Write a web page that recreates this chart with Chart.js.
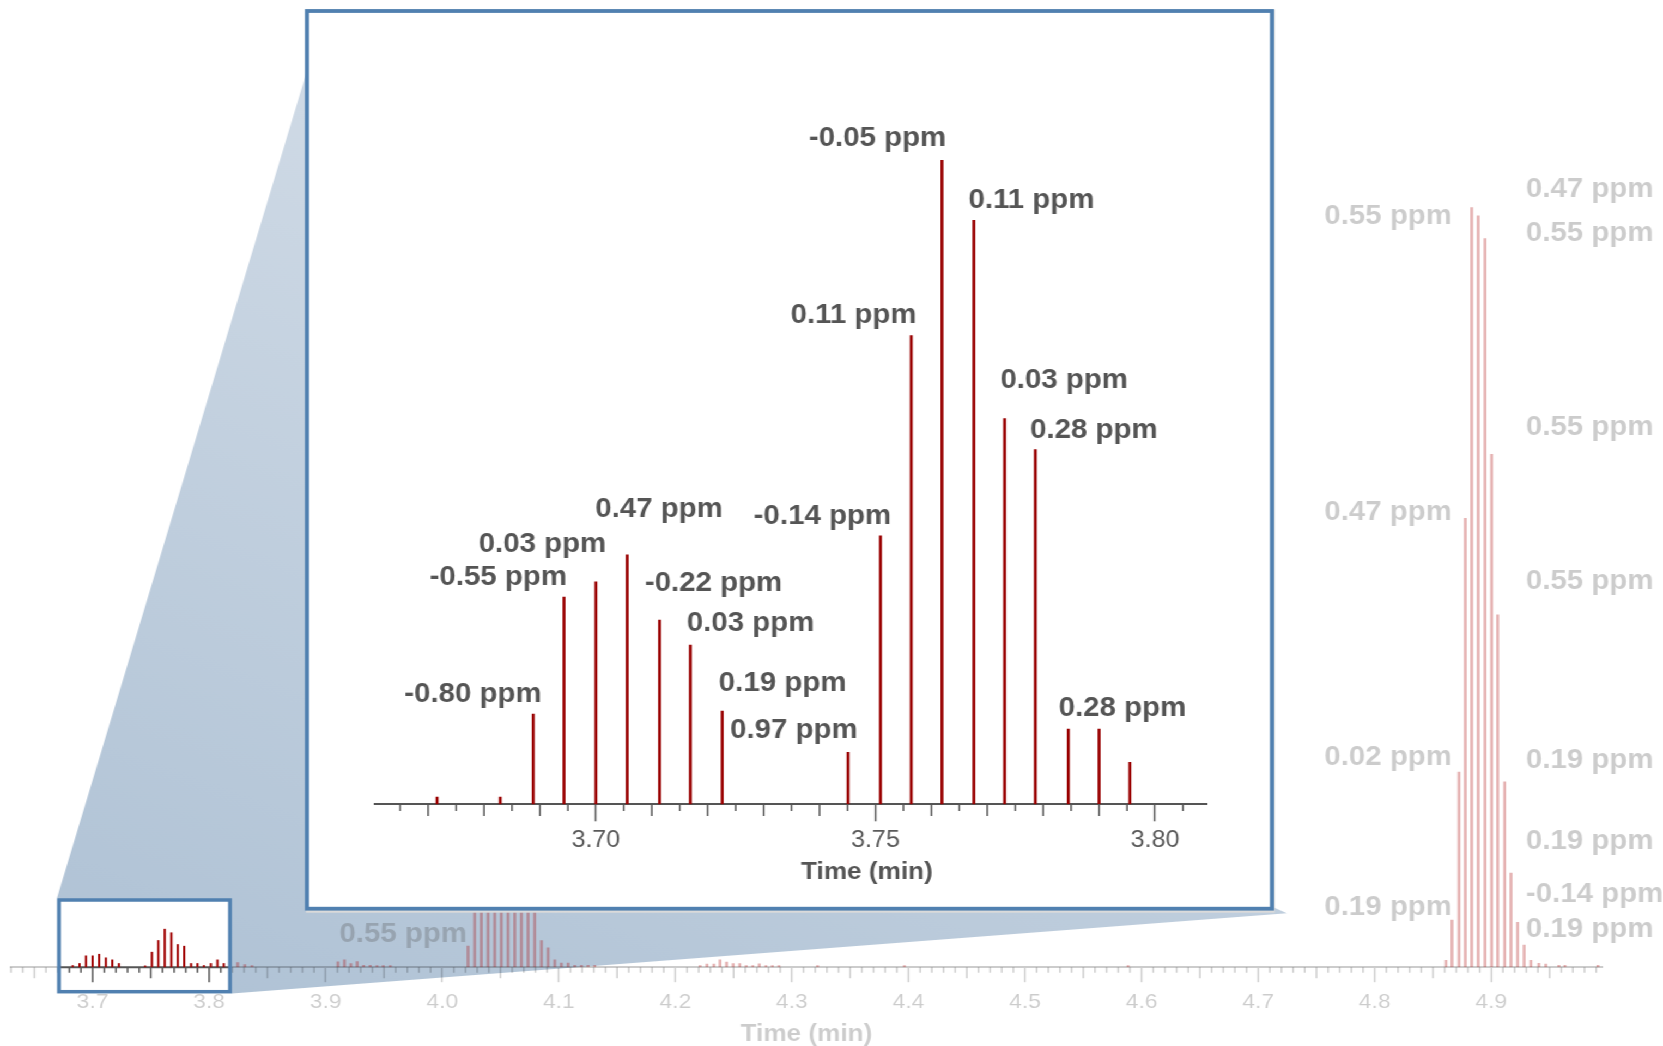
<!DOCTYPE html>
<html>
<head>
<meta charset="utf-8">
<script src="https://cdn.jsdelivr.net/npm/chart.js@4.4.1/dist/chart.umd.min.js"></script>
<style>
html,body{margin:0;padding:0;background:#fff;overflow:hidden;width:1663px;height:1046px}
#stage{position:absolute;left:0;top:0;width:1526px;height:1046px;transform:scaleX(1.08978);transform-origin:0 0}
#stage canvas{position:absolute;left:0;top:0}
</style>
</head>
<body>
<div id="stage">
<canvas id="main" width="1526" height="1046"></canvas>
<canvas id="inset" width="1526" height="1046"></canvas>
</div>
<script>
// ================= DATA =================
// Full chromatogram (retention time in min, relative intensity %)
const mainTimes = [
  3.6716, 3.6829, 3.6888, 3.6943, 3.7000, 3.7056, 3.7114, 3.7169, 3.7226,
  3.7451, 3.7509, 3.7564, 3.7619, 3.7676, 3.7731, 3.7786, 3.7845, 3.7900, 3.7955,
  3.8015, 3.8071, 3.8126, 3.8245, 3.8306, 3.8367,
  3.9105, 3.9161, 3.9216, 3.9270, 3.9325, 3.9382, 3.9440, 3.9494, 3.9554,
  4.0221, 4.0278, 4.0335, 4.0393, 4.0450, 4.0507, 4.0564, 4.0622, 4.0679, 4.0736,
  4.0793, 4.0851, 4.0908, 4.0965, 4.1022, 4.1080, 4.1137, 4.1194, 4.1251, 4.1308,
  4.2212, 4.2271, 4.2330, 4.2383, 4.2439, 4.2496, 4.2552, 4.2608, 4.2664, 4.2720,
  4.2777, 4.2832, 4.2889, 4.3220, 4.3965, 4.5884,
  4.8611, 4.8663, 4.8723, 4.8777, 4.8832, 4.8888, 4.8946, 4.9003, 4.9055, 4.9115,
  4.9169, 4.9226, 4.9282, 4.9340, 4.9408, 4.9468, 4.9580, 4.9632, 4.9915
];
const mainIntensity = [
  0.26, 0.26, 0.53, 1.54, 1.54, 1.75, 1.28, 1.01, 0.53,
  0.22, 2.02, 3.56, 5.05, 4.58, 3.03, 2.81, 0.53, 0.53, 0.26,
  0.53, 1.01, 0.53, 0.62, 0.35, 0.22,
  0.70, 0.96, 0.49, 0.75, 0.26, 0.26, 0.22, 0.22, 0.22,
  2.77, 14, 30, 48, 62, 66, 60, 50, 36, 22,
  11, 3.52, 2.54, 0.96, 0.53, 0.53, 0.26, 0.26, 0.26, 0.26,
  0.22, 0.40, 0.40, 0.96, 0.66, 0.49, 0.49, 0.22, 0.22, 0.44,
  0.22, 0.22, 0.22, 0.22, 0.22, 0.22,
  0.9, 6.2, 25.7, 59.1, 100, 98.9, 95.9, 67.5, 46.4, 24.4,
  12.4, 5.9, 2.9, 0.9, 0.5, 0.4, 0.26, 0.26, 0.26
];
const mainLabelTimes = [4.8832, 4.8777, 4.8723, 4.8663, 4.8888, 4.8946, 4.9003, 4.9055, 4.9115, 4.9169, 4.9226, 4.9282, 4.0221];
const mainLabelText  = ['0.55 ppm', '0.47 ppm', '0.02 ppm', '0.19 ppm', '0.47 ppm', '0.55 ppm', '0.55 ppm', '0.55 ppm', '0.19 ppm', '0.19 ppm', '-0.14 ppm', '0.19 ppm', '0.55 ppm'];
const mainTickValues = [3.7, 3.8, 3.9, 4.0, 4.1, 4.2, 4.3, 4.4, 4.5, 4.6, 4.7, 4.8, 4.9];
const mainTickLabels = ['3.7', '3.8', '3.9', '4.0', '4.1', '4.2', '4.3', '4.4', '4.5', '4.6', '4.7', '4.8', '4.9'];

// Zoomed region (same units)
const insetTimes = [3.6716, 3.6829, 3.6888, 3.6943, 3.7000, 3.7056, 3.7114, 3.7169, 3.7226,
                    3.7451, 3.7509, 3.7564, 3.7619, 3.7676, 3.7731, 3.7786, 3.7845, 3.7900, 3.7955];
const insetIntensity = [0.057, 0.057, 0.707, 1.626, 1.744, 1.956, 1.445, 1.249, 0.731,
                        0.408, 2.105, 3.676, 5.051, 4.580, 3.024, 2.781, 0.589, 0.589, 0.330];
const insetLabelTimes = [3.6888, 3.6943, 3.7000, 3.7056, 3.7114, 3.7169, 3.7226, 3.7451, 3.7509, 3.7564, 3.7619, 3.7676, 3.7731, 3.7786, 3.7845];
const insetLabelText  = ['-0.80 ppm', '-0.55 ppm', '0.03 ppm', '0.47 ppm', '-0.22 ppm', '0.03 ppm', '0.19 ppm', '0.97 ppm', '-0.14 ppm', '0.11 ppm', '-0.05 ppm', '0.11 ppm', '0.03 ppm', '0.28 ppm', '0.28 ppm'];
const insetTickValues = [3.70, 3.75, 3.80];
const insetTickLabels = ['3.70', '3.75', '3.80'];
const axisTitle = 'Time (min)';

// ================= LAYOUT / STYLE =================
const S = 1663 / 1526;            // horizontal stretch of the stage
const fx = v => v / S;            // page x -> canvas x
const FONT = "'Liberation Sans', Arial, Helvetica, sans-serif";
const FADE = 'rgba(0,0,0,0.2)';
const FADE_LABEL = 'rgba(85,85,85,0.3)';
// label placement: [align, dx (page px), dy (px) relative to stick top]
const mainLabelPlace = [['R',-19.7,9],['R',-13.3,-6],['R',-7,-14],['R',0,-13],['L',47.7,-26],['L',41,-5],['L',34.3,-27],['L',28.3,-33],['L',21.3,-21],['L',15,-31],['L',8.3,-28],['L',1.7,-16],['R',-1,-12]];
const insetLabelPlace = [['R',8.4,-20],['R',3,-19],['R',10.4,-37.7],['L',-32,-45],['L',-14.7,-36],['L',-3.6,-21.5],['L',-3.4,-27.5],['R',9.6,-22],['R',10.6,-19],['R',5.3,-20],['R',4.2,-22],['L',-5.3,-20],['L',-4.2,-38],['L',-5.3,-19],['L',-9.6,-21]];

function drawTicks(ctx, xs, y0, from, to, unit, lenFn, color, skipFn) {
  ctx.save();
  ctx.strokeStyle = color; ctx.lineWidth = 1.5;
  ctx.beginPath();
  for (let k = from; k <= to; k++) {
    if (skipFn && skipFn(k)) continue;
    const px = xs.getPixelForValue(k * unit);
    ctx.moveTo(px, y0); ctx.lineTo(px, y0 + lenFn(k));
  }
  ctx.stroke();
  ctx.restore();
}

function drawLabels(chart, times, texts, place, color) {
  const ctx = chart.ctx, meta = chart.getDatasetMeta(0);
  const pts = chart.data.datasets[0].data;
  ctx.save();
  ctx.font = 'bold 27px ' + FONT;
  ctx.fillStyle = color; ctx.textBaseline = 'middle';
  texts.forEach((txt, j) => {
    const idx = pts.findIndex(p => Math.abs(p.x - times[j]) < 1e-6);
    if (idx < 0) return;
    const el = meta.data[idx];
    const [al, dx, dy] = place[j];
    ctx.textAlign = al === 'R' ? 'right' : 'left';
    ctx.fillText(txt, el.x + dx / S, el.y + dy);
  });
  ctx.restore();
}

const mainLen = k => (k % 10 === 0 ? 15 : (k % 5 === 0 ? 11 : 5.5));

const mainDeco = {
  id: 'mainDeco',
  beforeDraw(chart) {
    const ctx = chart.ctx;
    const pts = [[57, 898], [319.3, 30], [1268, 30], [1268, 905], [1287, 913.3], [232, 993.5]];
    const g = ctx.createLinearGradient(fx(120), 995, fx(520), 60);
    g.addColorStop(0, 'rgb(175,194,213)');
    g.addColorStop(1, 'rgb(210,220,231)');
    ctx.save();
    ctx.fillStyle = g;
    ctx.beginPath();
    pts.forEach((p, i) => (i ? ctx.lineTo(fx(p[0]), p[1]) : ctx.moveTo(fx(p[0]), p[1])));
    ctx.closePath(); ctx.fill();
    ctx.restore();
  },
  afterDatasetsDraw(chart) {
    const xs = chart.scales.x, y0 = chart.chartArea.bottom;
    drawTicks(chart.ctx, xs, y0, Math.ceil(xs.min * 100), Math.floor(xs.max * 100), 0.01, mainLen, FADE, k => k % 10 === 0);
    drawLabels(chart, mainLabelTimes, mainLabelText, mainLabelPlace, FADE_LABEL);
  },
  afterDraw(chart) {
    const ctx = chart.ctx, xs = chart.scales.x, y0 = chart.chartArea.bottom;
    const L = fx(59), R = fx(230), T = 900, B = 991.7;
    ctx.save();
    ctx.fillStyle = '#fff'; ctx.fillRect(L, T, R - L, B - T);
    ctx.beginPath(); ctx.rect(L, T, R - L, B - T); ctx.clip();
    ctx.strokeStyle = '#555'; ctx.lineWidth = 2;
    ctx.beginPath(); ctx.moveTo(L, y0); ctx.lineTo(R, y0); ctx.stroke();
    drawTicks(ctx, xs, y0, 366, 383, 0.01, mainLen, '#555');
    ctx.fillStyle = '#a00000';
    chart.getDatasetMeta(0).data.forEach(el => {
      if (el.x < L - 3 || el.x > R + 3) return;
      ctx.fillRect(el.x - 1, el.y, 2, el.base - el.y);
    });
    ctx.restore();
    ctx.save();
    ctx.strokeStyle = '#5080b0'; ctx.lineWidth = 3.5;
    ctx.strokeRect(L, T, R - L, B - T);
    ctx.restore();
  }
};

new Chart(document.getElementById('main'), {
  type: 'bar',
  data: { datasets: [{
    data: mainTimes.map((t, i) => ({ x: t, y: mainIntensity[i] })),
    backgroundColor: 'rgba(170,0,0,0.3)', borderWidth: 0, barThickness: 2
  }] },
  options: {
    responsive: false, animation: false, devicePixelRatio: 1,
    layout: { padding: { left: fx(11), right: 1526 - fx(1602), top: 10, bottom: 0 } },
    plugins: { legend: { display: false }, tooltip: { enabled: false } },
    scales: {
      x: {
        type: 'linear', min: 3.63, max: 4.995, offset: false,
        afterBuildTicks: sc => { sc.ticks = mainTickValues.map(v => ({ value: v })); },
        ticks: { autoSkip: false, maxRotation: 0, padding: 7.9, color: FADE,
                 font: { family: FONT, size: 21 }, callback: (v, i) => mainTickLabels[i] },
        grid: { offset: false, drawOnChartArea: false, tickLength: 15, tickColor: FADE, tickWidth: 1.5 },
        border: { color: FADE, width: 2 },
        title: { display: true, text: axisTitle, color: FADE,
                 font: { family: FONT, size: 24, weight: 'bold' }, padding: { top: -3, bottom: -3 } }
      },
      y: { display: false, min: 0, max: 126 }
    }
  },
  plugins: [mainDeco]
});

const insetLen = k => (k % 10 === 0 ? 17 : (k % 2 === 0 ? 11.7 : 6.7));

const insetDeco = {
  id: 'insetDeco',
  beforeDraw(chart) {
    const ctx = chart.ctx;
    const L = fx(307), R = fx(1272), T = 11, B = 908.7;
    ctx.save();
    ctx.fillStyle = '#dadada';
    ctx.fillRect(L - 1, T - 1.5, R - L + 3.5, B - T + 5.5);
    ctx.fillStyle = '#fff';
    ctx.fillRect(L, T, R - L, B - T);
    ctx.strokeStyle = '#5080b0'; ctx.lineWidth = 3.8;
    ctx.strokeRect(L, T, R - L, B - T);
    ctx.restore();
  },
  afterDatasetsDraw(chart) {
    const ctx = chart.ctx, xs = chart.scales.x, y0 = chart.chartArea.bottom;
    drawTicks(ctx, xs, y0, Math.ceil(xs.min / 0.005), Math.floor(xs.max / 0.005), 0.005, insetLen, '#555', k => k % 10 === 0);
    drawLabels(chart, insetLabelTimes, insetLabelText, insetLabelPlace, '#555');
    ctx.save();
    ctx.font = 'bold 24px ' + FONT;
    ctx.fillStyle = '#555'; ctx.textAlign = 'center'; ctx.textBaseline = 'middle';
    ctx.fillText(axisTitle, fx(867), 872);
    ctx.restore();
  }
};

new Chart(document.getElementById('inset'), {
  type: 'bar',
  data: { datasets: [{
    data: insetTimes.map((t, i) => ({ x: t, y: insetIntensity[i] })),
    backgroundColor: '#990000', borderWidth: 0, barThickness: 2
  }] },
  options: {
    responsive: false, animation: false, devicePixelRatio: 1,
    layout: { padding: { left: fx(375), right: 1526 - fx(1207), top: 60, bottom: 186.7 } },
    plugins: { legend: { display: false }, tooltip: { enabled: false } },
    scales: {
      x: {
        type: 'linear', min: 3.6605, max: 3.8093, offset: false,
        afterBuildTicks: sc => { sc.ticks = insetTickValues.map(v => ({ value: v })); },
        ticks: { autoSkip: false, maxRotation: 0, padding: 5.2, color: '#5a5a5a',
                 font: { family: FONT, size: 23 }, callback: (v, i) => insetTickLabels[i] },
        grid: { offset: false, drawOnChartArea: false, tickLength: 17, tickColor: '#555', tickWidth: 1.5 },
        border: { color: '#555', width: 2 }
      },
      y: { display: false, min: 0, max: 5.837 }
    }
  },
  plugins: [insetDeco]
});
</script>
</body>
</html>
